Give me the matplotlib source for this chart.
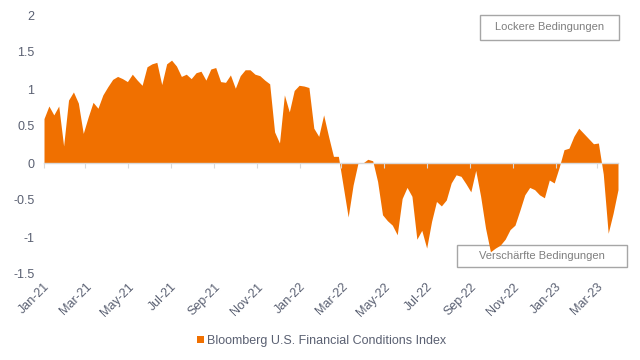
import matplotlib
matplotlib.use("Agg")
import matplotlib.pyplot as plt
import matplotlib.dates as mdates
from matplotlib.patches import Rectangle
import pandas as pd

plt.rcParams['font.family'] = ['Liberation Sans', 'DejaVu Sans']

# Bloomberg U.S. Financial Conditions Index, weekly readings (Jan 2021 - Mar 2023)
values = [
    0.60, 0.77, 0.65, 0.77, 0.23, 0.85, 0.96, 0.81, 0.40, 0.62,
    0.82, 0.74, 0.92, 1.03, 1.13, 1.17, 1.14, 1.10, 1.20, 1.12,
    1.05, 1.30, 1.34, 1.36, 1.06, 1.34, 1.39, 1.31, 1.17, 1.20,
    1.14, 1.22, 1.24, 1.12, 1.27, 1.29, 1.10, 1.09, 1.19, 1.01,
    1.18, 1.26, 1.26, 1.20, 1.18, 1.12, 1.07, 0.42, 0.27, 0.92,
    0.69, 0.98, 1.05, 1.04, 1.02, 0.47, 0.36, 0.65, 0.36, 0.09,
    0.09, -0.32, -0.73, -0.30, 0.00, 0.00, 0.05, 0.03, -0.25, -0.70,
    -0.78, -0.84, -0.97, -0.48, -0.33, -0.45, -1.03, -0.91, -1.15, -0.79,
    -0.52, -0.58, -0.50, -0.27, -0.16, -0.18, -0.28, -0.39, -0.10, -0.45,
    -0.88, -1.20, -1.15, -1.11, -1.03, -0.90, -0.84, -0.64, -0.43, -0.33,
    -0.36, -0.43, -0.47, -0.23, -0.27, -0.06, 0.18, 0.20, 0.36, 0.47,
    0.40, 0.33, 0.26, 0.27, -0.15, -0.95, -0.68, -0.36,
]
start_date = '2021-01-01'
dates = pd.date_range(start_date, periods=len(values), freq='7D')

series_label = 'Bloomberg U.S. Financial Conditions Index'
label_loose = 'Lockere Bedingungen'
label_tight = 'Verschärfte Bedingungen'
y_ticks = [-1.5, -1, -0.5, 0, 0.5, 1, 1.5, 2]

orange = '#F07000'
text_col = '#5A6072'
grid_col = '#D9D9D9'

fig = plt.figure(figsize=(6.4, 3.6), dpi=100)
ax = fig.add_axes([44/640, 1-274/360, 574/640, 259/360])

fill = ax.fill_between(dates, values, 0, color=orange, linewidth=0, zorder=2,
                       label=series_label)

ax.set_xlim(dates[0], dates[-1])
ax.set_ylim(y_ticks[0], y_ticks[-1])
ax.set_yticks(y_ticks)
ax.set_yticklabels([f'{t:g}' for t in y_ticks])

for s in ax.spines.values():
    s.set_visible(False)

ax.tick_params(axis='y', length=0, pad=7, labelsize=9, labelcolor=text_col)
ax.xaxis.set_major_locator(mdates.MonthLocator(bymonth=[1, 3, 5, 7, 9, 11]))
ax.xaxis.set_major_formatter(mdates.DateFormatter('%b-%y'))
ax.tick_params(axis='x', length=0, pad=5, labelsize=9, labelcolor=text_col)
for lbl in ax.get_xticklabels():
    lbl.set_rotation(45)
    lbl.set_ha('right')
    lbl.set_rotation_mode('anchor')

# zero axis line with tick marks
y0, y1 = ax.get_ylim()
zero_frac = (0 - y0) / (y1 - y0)
sec = ax.secondary_xaxis(zero_frac)
sec.xaxis.set_major_locator(mdates.MonthLocator(bymonth=[1, 3, 5, 7, 9, 11]))
sec.tick_params(axis='x', length=3.5, width=0.8, color=grid_col, labelbottom=False,
                labeltop=False, direction='out')
for k, s in sec.spines.items():
    if k == 'bottom':
        s.set_color(grid_col)
        s.set_linewidth(1.0)
    else:
        s.set_visible(False)
sec.set_zorder(3)

# annotation boxes
box_col = '#A6A6A6'
ax.add_patch(Rectangle((0.7596, 0.9046), 0.2416, 0.0954, transform=ax.transAxes,
                       fill=False, edgecolor=box_col, linewidth=1.0, clip_on=False, zorder=1))
ax.text(0.880, 0.952, label_loose, transform=ax.transAxes, ha='center', va='center',
        fontsize=8, color='#7F7F7F')
ax.add_patch(Rectangle((0.719, 0.0259), 0.296, 0.086, transform=ax.transAxes,
                       fill=False, edgecolor=box_col, linewidth=1.0, clip_on=False, zorder=1))
ax.text(0.867, 0.069, label_tight, transform=ax.transAxes, ha='center', va='center',
        fontsize=8, color='#7F7F7F')

fig.legend(handles=[fill], loc='center', bbox_to_anchor=(0.503, 1-341/360), frameon=False,
           fontsize=9, labelcolor=text_col, handlelength=0.55, handleheight=0.55,
           handletextpad=0.25)

fig.savefig('out.png', dpi=100)
